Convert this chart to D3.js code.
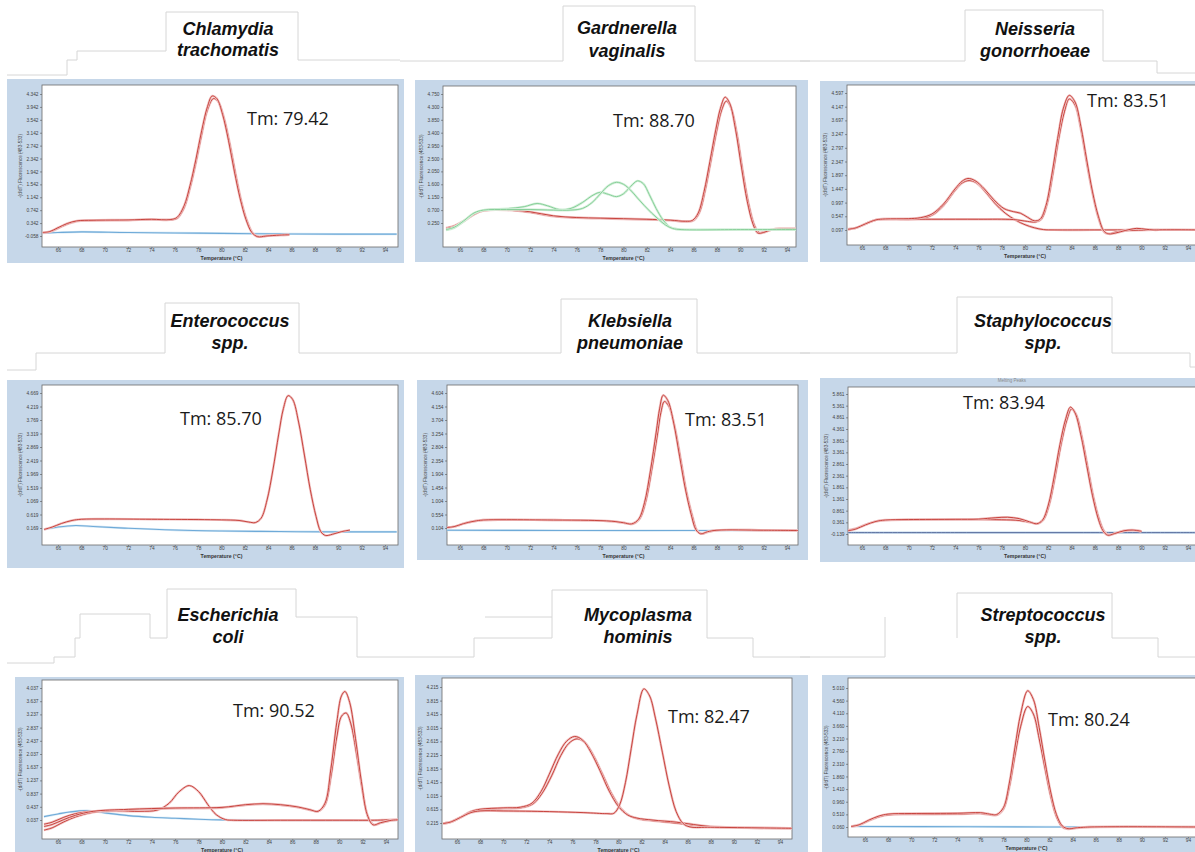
<!DOCTYPE html>
<html>
<head>
<meta charset="utf-8">
<title>Melting peaks</title>
<script src="https://d3js.org/d3.v7.min.js"></script>
<style>
  body { margin: 0; background: #fff; }
  svg text { font-family: "Liberation Sans", Arial, sans-serif; }
  .title { font-size: 18px; font-weight: bold; font-style: italic; fill: #111; }
  .tm { font-family: "Open Sans", sans-serif; font-size: 18px; fill: #1a1a1a; }
  .axis text { font-size: 4.8px; fill: #444; }
  .axis line { stroke: #555; stroke-width: 0.6; }
  .axis path { display: none; }
  .ylab { font-size: 4.6px; fill: #444; }
  .xlab { font-size: 5.2px; font-weight: bold; fill: #333; }
  .deco { fill: none; stroke: #d6d6d6; stroke-width: 1; }
</style>
</head>
<body>
<svg id="chart" width="1195" height="852"></svg>
<script>
// ---- data ----
const xTicks = [66, 68, 70, 72, 74, 76, 78, 80, 82, 84, 86, 88, 90, 92, 94];

const panelNames = [
  ["Chlamydia", "trachomatis"], ["Gardnerella", "vaginalis"], ["Neisseria", "gonorrhoeae"],
  ["Enterococcus", "spp."], ["Klebsiella", "pneumoniae"], ["Staphylococcus", "spp."],
  ["Escherichia", "coli"], ["Mycoplasma", "hominis"], ["Streptococcus", "spp."]
];
const tmLabels = ["Tm: 79.42", "Tm: 88.70", "Tm: 83.51", "Tm: 85.70", "Tm: 83.51",
                  "Tm: 83.94", "Tm: 90.52", "Tm: 82.47", "Tm: 80.24"];

const ctTicks = ["4.342","3.942","3.542","3.142","2.742","2.342","1.942","1.542","1.142","0.742","0.342","-0.058"];
const gvTicks = ["4.750","4.300","3.850","3.400","2.950","2.500","2.050","1.600","1.150","0.700","0.250"];
const ngTicks = ["4.597","4.147","3.697","3.247","2.797","2.347","1.897","1.447","0.997","0.547","0.097"];
const entTicks = ["4.669","4.219","3.769","3.319","2.869","2.419","1.969","1.519","1.069","0.619","0.169"];
const kpTicks = ["4.604","4.154","3.704","3.254","2.804","2.354","1.904","1.454","1.004","0.554","0.104"];
const saTicks = ["5.861","5.361","4.861","4.361","3.861","3.361","2.861","2.361","1.861","1.361","0.861","0.361","-0.139"];
const ecoTicks = ["4.037","3.637","3.237","2.837","2.437","2.037","1.637","1.237","0.837","0.437","0.037"];
const mhTicks = ["4.215","3.815","3.415","3.015","2.615","2.215","1.815","1.415","1.015","0.615","0.215"];
const stTicks = ["5.010","4.560","4.110","3.660","3.210","2.760","2.310","1.860","1.410","0.960","0.510","0.060"];

// Chlamydia trachomatis
const ctRed1 = [[64.7,0.05],[65.3,0.08],[66,0.2],[66.8,0.33],[67.6,0.41],[69,0.43],[72,0.44],[74,0.46],[75.6,0.45],[76.2,0.52],[76.8,0.88],[77.3,1.5],[77.8,2.3],[78.3,3.2],[78.8,3.95],[79.2,4.28],[79.6,4.2],[80.1,3.7],[80.6,2.9],[81.1,1.95],[81.6,1.1],[82.1,0.45],[82.6,0.05],[83.1,-0.08],[83.8,-0.06],[85,-0.03],[85.8,-0.02]];
const ctRed2 = [[64.7,0.04],[65.3,0.07],[66,0.18],[66.8,0.31],[67.6,0.4],[69,0.42],[72,0.43],[74,0.45],[75.6,0.44],[76.2,0.49],[76.8,0.82],[77.3,1.42],[77.8,2.2],[78.3,3.08],[78.8,3.85],[79.3,4.2],[79.7,4.12],[80.2,3.62],[80.7,2.82],[81.2,1.88],[81.7,1.02],[82.2,0.4],[82.7,0.02],[83.2,-0.08],[83.9,-0.05],[85,-0.03],[85.8,-0.02]];
const ctBlue = [[64.7,0.03],[66,0.05],[68,0.07],[72,0.05],[78,0.03],[84,0.01],[90,0.0],[95,0.0]];

// Gardnerella vaginalis
const gvRed1 = [[64.8,0.05],[65.5,0.12],[66.3,0.3],[67.2,0.55],[68,0.68],[70,0.72],[72,0.64],[74,0.5],[76,0.44],[78,0.42],[80,0.4],[82,0.38],[84,0.35],[85.3,0.31],[85.9,0.34],[86.4,0.6],[86.9,1.35],[87.4,2.4],[87.9,3.5],[88.3,4.25],[88.7,4.64],[89.1,4.42],[89.6,3.5],[90.1,2.2],[90.6,1.0],[91.1,0.2],[91.5,-0.1],[92,-0.08],[92.7,0.02],[93.5,0.05],[95,0.05]];
const gvRed2 = [[64.8,0.08],[65.5,0.15],[66.3,0.32],[67.2,0.56],[68,0.68],[70,0.7],[72,0.62],[74,0.48],[76,0.43],[78,0.41],[80,0.39],[82,0.37],[84,0.34],[85.4,0.3],[86,0.34],[86.5,0.62],[87,1.4],[87.5,2.45],[88,3.5],[88.4,4.18],[88.8,4.5],[89.2,4.28],[89.7,3.4],[90.2,2.1],[90.7,0.95],[91.2,0.18],[91.6,-0.08],[92.1,-0.06],[92.8,0.03],[93.5,0.05],[95,0.05]];
const gvGreen1 = [[64.8,0.0],[65.5,0.08],[66.3,0.3],[67.2,0.58],[68,0.7],[70,0.75],[71.5,0.82],[72.6,0.93],[73.5,0.85],[74.5,0.72],[75.5,0.76],[76.5,0.97],[77.3,1.2],[78,1.32],[78.7,1.25],[79.4,1.17],[80,1.27],[80.6,1.52],[81.2,1.72],[81.7,1.62],[82.2,1.25],[82.8,0.75],[83.4,0.35],[84,0.1],[84.6,0.03],[86,0.02],[90,0.02],[95,0.02]];
const gvGreen2 = [[64.8,0.02],[65.5,0.1],[66.3,0.32],[67.2,0.6],[68,0.7],[70,0.72],[72,0.72],[74,0.7],[75.5,0.7],[76.5,0.76],[77.3,0.96],[78,1.26],[78.7,1.55],[79.4,1.67],[80,1.6],[80.6,1.4],[81.2,1.12],[81.8,0.85],[82.4,0.6],[83,0.38],[83.6,0.18],[84.2,0.06],[85,0.02],[90,0.02],[95,0.02]];

// Neisseria gonorrhoeae
const ngRed1 = [[64.8,0.12],[65.5,0.17],[66.3,0.3],[67.2,0.43],[68,0.46],[70,0.47],[71,0.5],[72,0.62],[73,0.95],[74,1.45],[74.6,1.7],[75.1,1.79],[75.7,1.72],[76.5,1.45],[77.3,1.1],[78.2,0.8],[79,0.7],[79.6,0.65],[80.2,0.52],[80.8,0.4],[81.3,0.45],[81.8,0.9],[82.3,1.9],[82.8,3.1],[83.3,4.1],[83.8,4.52],[84.3,4.3],[84.8,3.5],[85.3,2.4],[85.8,1.35],[86.3,0.55],[86.8,0.05],[87.2,-0.03],[87.8,0.0],[88.6,0.08],[89.6,0.15],[90.4,0.12],[91,0.1],[91.5,0.1]];
const ngRed2 = [[64.8,0.12],[65.5,0.17],[66.3,0.3],[67.2,0.43],[68,0.46],[70,0.44],[71,0.47],[72,0.58],[73,0.9],[74,1.4],[74.6,1.64],[75.2,1.72],[75.8,1.65],[76.6,1.35],[77.4,0.98],[78.3,0.65],[79.2,0.42],[80,0.27],[80.8,0.17],[81.6,0.11],[82.5,0.1],[86,0.1],[90,0.1],[95,0.1]];
const ngRed3 = [[64.8,0.12],[65.5,0.17],[66.3,0.3],[67.2,0.43],[68,0.45],[72,0.45],[76,0.45],[79,0.44],[80.2,0.38],[80.9,0.36],[81.4,0.45],[81.9,0.95],[82.4,1.95],[82.9,3.1],[83.4,4.0],[83.8,4.4],[84.3,4.2],[84.8,3.4],[85.3,2.3],[85.8,1.3],[86.3,0.5],[86.8,0.03],[87.2,-0.03],[88,0.05],[91,0.1],[95,0.1]];

// Enterococcus spp.
const entRed = [[64.8,0.12],[65.5,0.2],[66.3,0.32],[67.2,0.42],[68,0.46],[70,0.47],[74,0.46],[78,0.45],[80,0.44],[81.5,0.42],[82.3,0.37],[82.9,0.35],[83.4,0.5],[83.9,1.1],[84.4,2.1],[84.9,3.3],[85.3,4.15],[85.7,4.58],[86.1,4.45],[86.6,3.7],[87.1,2.6],[87.6,1.45],[88.1,0.55],[88.5,0.05],[88.9,-0.08],[89.5,-0.04],[90.3,0.05],[91,0.1]];
const entBlue = [[64.8,0.12],[66,0.2],[67.5,0.25],[69,0.22],[72,0.16],[76,0.1],[80,0.07],[85,0.05],[90,0.04],[95,0.04]];

// Klebsiella pneumoniae
const kpRed1 = [[64.8,0.12],[65.5,0.15],[66.3,0.25],[67.2,0.33],[68,0.37],[70,0.38],[74,0.37],[77,0.36],[79,0.33],[80,0.28],[80.7,0.24],[81.3,0.4],[81.8,0.95],[82.3,2.0],[82.8,3.3],[83.1,4.1],[83.4,4.53],[83.8,4.35],[84.3,3.6],[84.8,2.5],[85.3,1.4],[85.8,0.55],[86.2,0.05],[86.6,-0.09],[87.2,-0.02],[88,0.03],[92,0.03],[95,0.02]];
const kpRed2 = [[64.8,0.12],[65.5,0.15],[66.3,0.25],[67.2,0.33],[68,0.37],[70,0.38],[74,0.37],[77,0.36],[79,0.33],[80,0.28],[80.8,0.24],[81.4,0.42],[81.9,0.98],[82.4,2.0],[82.9,3.2],[83.2,3.95],[83.5,4.32],[83.9,4.15],[84.4,3.45],[84.9,2.4],[85.4,1.3],[85.9,0.5],[86.3,0.02],[86.7,-0.09],[87.3,-0.02],[88,0.03],[92,0.03],[95,0.02]];
const kpBlue = [[64.8,0.03],[75,0.02],[85,0.02],[95,0.02]];

// Staphylococcus spp.
const saRed1 = [[64.8,0.0],[65.5,0.08],[66.3,0.25],[67.2,0.4],[68,0.46],[70,0.48],[74,0.49],[76,0.5],[77.5,0.56],[78.5,0.58],[79.5,0.52],[80.4,0.38],[81,0.3],[81.5,0.45],[82,1.1],[82.5,2.3],[83,3.7],[83.5,4.8],[83.9,5.3],[84.3,5.05],[84.8,4.1],[85.3,2.8],[85.8,1.5],[86.3,0.5],[86.7,0.0],[87.1,-0.19],[87.7,-0.12],[88.5,0.0],[89.2,0.03],[90,-0.02]];
const saRed2 = [[64.8,0.02],[65.5,0.1],[66.3,0.26],[67.2,0.4],[68,0.45],[70,0.47],[74,0.48],[76,0.48],[78,0.47],[79.5,0.44],[80.5,0.35],[81.1,0.3],[81.6,0.48],[82.1,1.15],[82.6,2.35],[83.1,3.7],[83.6,4.75],[84,5.22],[84.4,4.98],[84.9,4.0],[85.4,2.7],[85.9,1.4],[86.4,0.45],[86.8,-0.02],[87.2,-0.18],[87.8,-0.1],[88.6,0.0],[89.3,0.02],[90,-0.03]];
const saBlue = [[64.8,-0.08],[75,-0.08],[85,-0.08],[95,-0.08]];

// Escherichia coli
const ecoRed1 = [[64.8,-0.09],[65.5,-0.03],[66.5,0.12],[67.5,0.23],[69,0.3],[71,0.31],[73,0.3],[74.5,0.34],[75.5,0.55],[76.3,0.88],[77.2,1.08],[78,0.9],[78.8,0.5],[79.5,0.2],[80.3,0.05],[81,0.03],[85,0.03],[90,0.03],[93,0.03],[94,0.04],[95,0.05]];
const ecoRed2 = [[64.8,-0.16],[65.5,-0.1],[66.5,0.05],[67.5,0.18],[69,0.3],[72,0.36],[76,0.4],[80,0.42],[82,0.5],[83.5,0.53],[85,0.5],[86.5,0.43],[87.5,0.35],[88.2,0.3],[88.8,0.55],[89.3,1.6],[89.8,3.0],[90.2,3.8],[90.5,3.93],[90.9,3.6],[91.4,2.5],[91.9,1.2],[92.4,0.2],[92.9,-0.11],[93.5,-0.05],[94.5,0.03],[95,0.04]];
const ecoRed3 = [[64.8,-0.27],[65.5,-0.2],[66.5,-0.02],[67.5,0.13],[69,0.27],[72,0.34],[76,0.39],[80,0.41],[82,0.49],[83.5,0.52],[85,0.49],[86.5,0.42],[87.5,0.34],[88.2,0.3],[88.8,0.5],[89.3,1.35],[89.8,2.55],[90.2,3.18],[90.6,3.28],[91,2.95],[91.5,2.0],[92,0.9],[92.5,0.1],[93,-0.11],[93.6,-0.05],[94.5,0.03],[95,0.04]];
const ecoBlue = [[64.8,0.14],[66,0.22],[67,0.28],[68.5,0.32],[70,0.25],[72,0.17],[74,0.12],[76,0.09],[78,0.06],[80,0.04],[84,0.03],[95,0.03]];

// Mycoplasma hominis
const mhRed1 = [[64.8,0.2],[65.5,0.25],[66.3,0.38],[67.2,0.55],[68,0.62],[70,0.66],[71.5,0.68],[72.5,0.8],[73.3,1.15],[74,1.65],[74.8,2.25],[75.5,2.62],[76.2,2.76],[76.9,2.65],[77.6,2.3],[78.4,1.75],[79.2,1.15],[80,0.7],[80.8,0.45],[81.6,0.36],[83,0.3],[85,0.24],[86.5,0.17],[88,0.11],[90,0.08],[95,0.06]];
const mhRed2 = [[64.8,0.2],[65.5,0.25],[66.3,0.38],[67.2,0.55],[68,0.6],[70,0.64],[71.5,0.66],[72.6,0.78],[73.4,1.1],[74.2,1.6],[75,2.2],[75.7,2.56],[76.4,2.69],[77.1,2.58],[77.8,2.22],[78.6,1.66],[79.4,1.08],[80.2,0.65],[81,0.42],[81.8,0.33],[83,0.28],[85,0.21],[86.5,0.15],[88,0.1],[90,0.08],[95,0.06]];
const mhRed3 = [[64.8,0.2],[65.5,0.25],[66.3,0.38],[67.2,0.52],[68,0.57],[70,0.57],[74,0.55],[77,0.52],[79,0.49],[79.6,0.5],[80.1,0.75],[80.6,1.4],[81.1,2.4],[81.6,3.4],[82.2,4.16],[82.7,3.95],[83.2,3.3],[83.8,2.3],[84.4,1.3],[85,0.55],[85.6,0.2],[86.2,0.1],[88,0.09],[95,0.06]];

// Streptococcus spp.
const stRed1 = [[64.8,0.08],[65.5,0.14],[66.3,0.3],[67.2,0.45],[68,0.52],[70,0.54],[74,0.55],[76,0.57],[76.8,0.52],[77.4,0.5],[78,0.75],[78.5,1.6],[79,2.9],[79.5,4.1],[80.1,4.91],[80.6,4.6],[81.1,3.6],[81.6,2.4],[82.1,1.3],[82.6,0.5],[83.1,0.1],[83.6,0.0],[84.3,0.03],[85.5,0.06],[95,0.06]];
const stRed2 = [[64.8,0.08],[65.5,0.13],[66.3,0.28],[67.2,0.42],[68,0.49],[70,0.51],[74,0.52],[76,0.54],[76.8,0.5],[77.4,0.48],[78,0.7],[78.5,1.45],[79,2.6],[79.5,3.65],[80.1,4.35],[80.6,4.08],[81.1,3.2],[81.6,2.15],[82.1,1.15],[82.6,0.42],[83.1,0.06],[83.6,-0.01],[84.3,0.02],[85.5,0.06],[95,0.06]];
const stBlue = [[64.8,0.08],[75,0.07],[85,0.06],[95,0.06]];

// ---- layout (pixel positions) ----
const layout = [
  {frame:[7,79,397,184],   plot:[42,85,356,162],   x66:58,  x94:385,  yT:94,  yB:236, cx:228,  b1:35,  b2:56,  tm:[247,125]},
  {frame:[415,80,393,182], plot:[443,86,353,161],  x66:460, x94:787,  yT:94,  yB:223, cx:627,  b1:34,  b2:57,  tm:[613,127]},
  {frame:[820,81,380,181], plot:[847,85,352,160],  x66:862, x94:1188, yT:93,  yB:230, cx:1035, b1:35,  b2:57,  tm:[1087,107]},
  {frame:[7,380,397,188],  plot:[42,385,356,160],  x66:58,  x94:385,  yT:393, yB:528, cx:230,  b1:327, b2:349, tm:[180,425]},
  {frame:[417,380,391,180],plot:[447,385,351,160], x66:460, x94:787,  yT:393, yB:528, cx:630,  b1:327, b2:349, tm:[685,426]},
  {frame:[820,378,380,184],plot:[848,387,352,158], x66:862, x94:1188, yT:394, yB:534, cx:1043, b1:327, b2:349, tm:[963,409]},
  {frame:[15,677,389,180], plot:[42,680,356,159],  x66:58,  x94:386,  yT:688, yB:820, cx:228,  b1:621, b2:643, tm:[233,717]},
  {frame:[415,675,393,180],plot:[442,678,350,161], x66:457, x94:780,  yT:687, yB:823, cx:638,  b1:621, b2:643, tm:[668,723]},
  {frame:[822,675,380,180],plot:[848,678,352,159], x66:865, x94:1188, yT:688, yB:827, cx:1043, b1:621, b2:643, tm:[1048,726]}
];

const panels = [
  {ticks: ctTicks,  curves: [["blue", ctBlue], ["red", ctRed2], ["red", ctRed1]]},
  {ticks: gvTicks,  curves: [["red", gvRed2], ["red", gvRed1], ["green", gvGreen1], ["green", gvGreen2]]},
  {ticks: ngTicks,  curves: [["red", ngRed2], ["red", ngRed3], ["red", ngRed1]]},
  {ticks: entTicks, curves: [["blue", entBlue], ["red", entRed]]},
  {ticks: kpTicks,  curves: [["blue", kpBlue], ["red", kpRed2], ["red", kpRed1]]},
  {ticks: saTicks,  curves: [["navy", saBlue], ["red", saRed2], ["red", saRed1]]},
  {ticks: ecoTicks, curves: [["blue", ecoBlue], ["red", ecoRed1], ["red", ecoRed3], ["red", ecoRed2]]},
  {ticks: mhTicks,  curves: [["red", mhRed2], ["red", mhRed1], ["red", mhRed3]]},
  {ticks: stTicks,  curves: [["blue", stBlue], ["red", stRed2], ["red", stRed1]]}
];

const styles = {
  red:   {halo: "#f0c2c2", core: "#c3352f", hw: 2.4, cw: 0.9},
  green: {halo: "#d4f0da", core: "#86cf98", hw: 2.4, cw: 1.0},
  blue:  {halo: "#d3e6f4", core: "#6eaad8", hw: 2.2, cw: 1.1},
  navy:  {halo: "#bcd3ea", core: "#5a6f9e", hw: 2.2, cw: 1.0}
};

// stitching outlines around the title boxes
const decoLines = [
  [[7,75],[67,75],[67,60],[77,60],[77,51],[166,51],[166,12],[298,12],[298,60],[400,60]],
  [[400,61],[563,61],[563,6],[695,6],[695,61],[810,61]],
  [[800,61],[965,61],[965,10],[1103,10],[1103,61],[1157,61],[1157,73],[1195,73]],
  [[7,370],[36,370],[36,353],[165,353],[165,303],[299,303],[299,353],[400,353]],
  [[400,353],[561,353],[561,299],[697,299],[697,353],[810,353]],
  [[800,353],[957,353],[957,297],[1112,297],[1112,353],[1190,353],[1190,367],[1195,367]],
  [[7,663],[54,663],[54,657],[75,657],[75,638],[80,638],[80,614],[150,614],[150,638],[167,638],[167,589],[296,589],[296,617],[357,617],[357,657],[400,657]],
  [[400,657],[474,657],[474,638],[552,638],[552,590],[707,590],[707,638],[753,638],[753,657],[810,657]],
  [[485,617],[552,617]],
  [[800,657],[885,657],[885,617]],
  [[957,638],[957,593],[1112,593],[1112,638],[1158,638],[1158,657],[1195,657]]
];

const svg = d3.select("#chart");

svg.selectAll("path.deco")
  .data(decoLines)
  .join("path")
  .attr("class", "deco")
  .attr("d", d3.line());

panels.forEach(function(p, i) {
  const L = layout[i];
  const g = svg.append("g");

  // title
  const t = g.append("text").attr("class", "title").attr("text-anchor", "middle");
  t.append("tspan").attr("x", L.cx).attr("y", L.b1).text(panelNames[i][0]);
  t.append("tspan").attr("x", L.cx).attr("y", L.b2).text(panelNames[i][1]);

  // frame and plot area
  g.append("rect")
    .attr("x", L.frame[0]).attr("y", L.frame[1])
    .attr("width", L.frame[2]).attr("height", L.frame[3])
    .attr("fill", "#c6d7e9");
  g.append("rect")
    .attr("x", L.plot[0]).attr("y", L.plot[1])
    .attr("width", L.plot[2]).attr("height", L.plot[3])
    .attr("fill", "#fff").attr("stroke", "#6a6a6a").attr("stroke-width", 0.8);

  const tickVals = p.ticks.map(Number);
  const x = d3.scaleLinear().domain([66, 94]).range([L.x66, L.x94]);
  const y = d3.scaleLinear()
    .domain([tickVals[tickVals.length - 1], tickVals[0]])
    .range([L.yB, L.yT]);

  const bottom = L.plot[1] + L.plot[3];
  g.append("g")
    .attr("class", "axis")
    .attr("transform", "translate(0," + bottom + ")")
    .call(d3.axisBottom(x).tickValues(xTicks).tickSize(1.5).tickPadding(0.5));
  g.append("g")
    .attr("class", "axis")
    .attr("transform", "translate(" + L.plot[0] + ",0)")
    .call(d3.axisLeft(y).tickValues(tickVals).tickSize(2).tickPadding(1.5)
      .tickFormat(function(d, k) { return p.ticks[k]; }));

  g.append("text")
    .attr("class", "ylab")
    .attr("text-anchor", "middle")
    .attr("transform", "translate(" + (L.plot[0] - 20) + "," + (L.plot[1] + L.plot[3] / 2) + ") rotate(-90)")
    .text("-(d/dT) Fluorescence (483-533)");
  g.append("text")
    .attr("class", "xlab")
    .attr("text-anchor", "middle")
    .attr("x", (L.x66 + L.x94) / 2)
    .attr("y", Math.min(bottom + 12.5, 852))
    .text("Temperature (°C)");

  // curves, clipped to the plot
  const clipId = "clip" + i;
  g.append("clipPath").attr("id", clipId)
    .append("rect")
    .attr("x", L.plot[0]).attr("y", L.plot[1])
    .attr("width", L.plot[2]).attr("height", L.plot[3]);

  const line = d3.line()
    .x(function(d) { return x(d[0]); })
    .y(function(d) { return y(d[1]); })
    .curve(d3.curveCatmullRom.alpha(0.5));

  const cg = g.append("g").attr("clip-path", "url(#" + clipId + ")");
  p.curves.forEach(function(c) {
    const s = styles[c[0]];
    cg.append("path").attr("d", line(c[1]))
      .attr("fill", "none").attr("stroke", s.halo).attr("stroke-width", s.hw);
    cg.append("path").attr("d", line(c[1]))
      .attr("fill", "none").attr("stroke", s.core).attr("stroke-width", s.cw);
  });

  // Tm label
  g.append("text")
    .attr("class", "tm")
    .attr("x", L.tm[0]).attr("y", L.tm[1])
    .text(tmLabels[i]);
});

// faint chart caption visible in the Staphylococcus panel
svg.append("text")
  .attr("x", 1012).attr("y", 382)
  .attr("text-anchor", "middle")
  .attr("font-size", 4.5).attr("fill", "#8a8a8a")
  .text("Melting Peaks");
</script>
</body>
</html>
